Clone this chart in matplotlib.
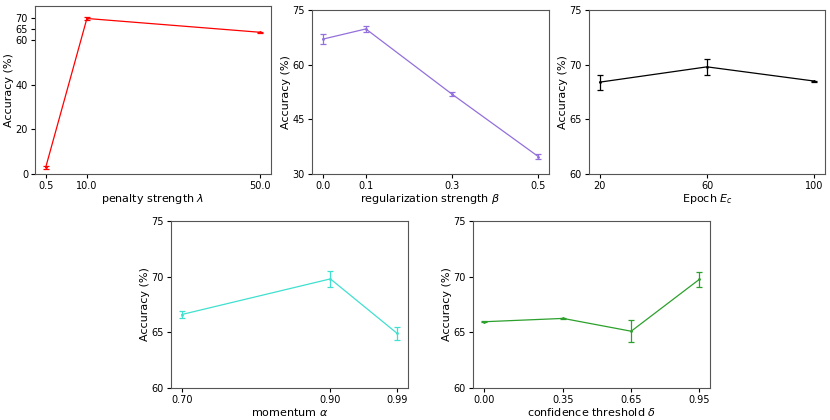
import matplotlib.pyplot as plt

# data
lam = [0.5, 10.0, 50.0]
lam_acc = [3.0, 69.8, 63.6]
lam_err = [0.7, 0.7, 0.2]

beta = [0.0, 0.1, 0.3, 0.5]
beta_acc = [67.0, 69.8, 51.9, 34.8]
beta_err = [1.4, 0.7, 0.5, 0.6]

epoch = [20, 60, 100]
epoch_acc = [68.4, 69.8, 68.5]
epoch_err = [0.7, 0.7, 0.05]

alpha = [0.70, 0.90, 0.99]
alpha_acc = [66.6, 69.8, 64.9]
alpha_err = [0.35, 0.7, 0.57]

delta = [0.00, 0.35, 0.65, 0.95]
delta_acc = [65.95, 66.25, 65.1, 69.75]
delta_err = [0.05, 0.05, 0.97, 0.7]

W, H = 830, 420
fig = plt.figure(figsize=(W / 100, H / 100), dpi=100)


def make_ax(x0, x1, y0, y1):
    # pixel box -> figure fraction
    return fig.add_axes([x0 / W, 1 - y1 / H, (x1 - x0) / W, (y1 - y0) / H])


panels = [
    ((35, 271, 6, 174), lam, lam_acc, lam_err, 'red', r'penalty strength $\lambda$',
     (0, 75.4), [0, 20, 40, 60, 65, 70], ['0.5', '10.0', '50.0']),
    ((312, 549, 10, 174), beta, beta_acc, beta_err, 'mediumpurple', r'regularization strength $\beta$',
     (30, 75), [30, 45, 60, 75], ['0.0', '0.1', '0.3', '0.5']),
    ((589, 825, 10, 174), epoch, epoch_acc, epoch_err, 'black', r'Epoch $E_c$',
     (60, 75), [60, 65, 70, 75], ['20', '60', '100']),
    ((171, 408, 221, 388), alpha, alpha_acc, alpha_err, 'turquoise', r'momentum $\alpha$',
     (60, 75), [60, 65, 70, 75], ['0.70', '0.90', '0.99']),
    ((473, 710, 221, 388), delta, delta_acc, delta_err, 'C2', r'confidence threshold $\delta$',
     (60, 75), [60, 65, 70, 75], ['0.00', '0.35', '0.65', '0.95']),
]

for box, x, y, e, c, xlabel, ylim, yticks, xtl in panels:
    ax = make_ax(*box)
    ax.errorbar(x, y, yerr=e, color=c, linewidth=0.9, elinewidth=0.9,
                capsize=2, capthick=0.9, marker='.', markersize=2)
    ax.set_ylim(*ylim)
    ax.set_yticks(yticks)
    ax.set_xticks(x)
    ax.set_xticklabels(xtl)
    ax.tick_params(labelsize=7, length=3, width=0.8, pad=2)
    ax.set_xlabel(xlabel, fontsize=8, labelpad=1)
    ax.set_ylabel('Accuracy (%)', fontsize=8, labelpad=1)
    for s in ax.spines.values():
        s.set_color('#555555')

fig.savefig('out.png', dpi=100)
